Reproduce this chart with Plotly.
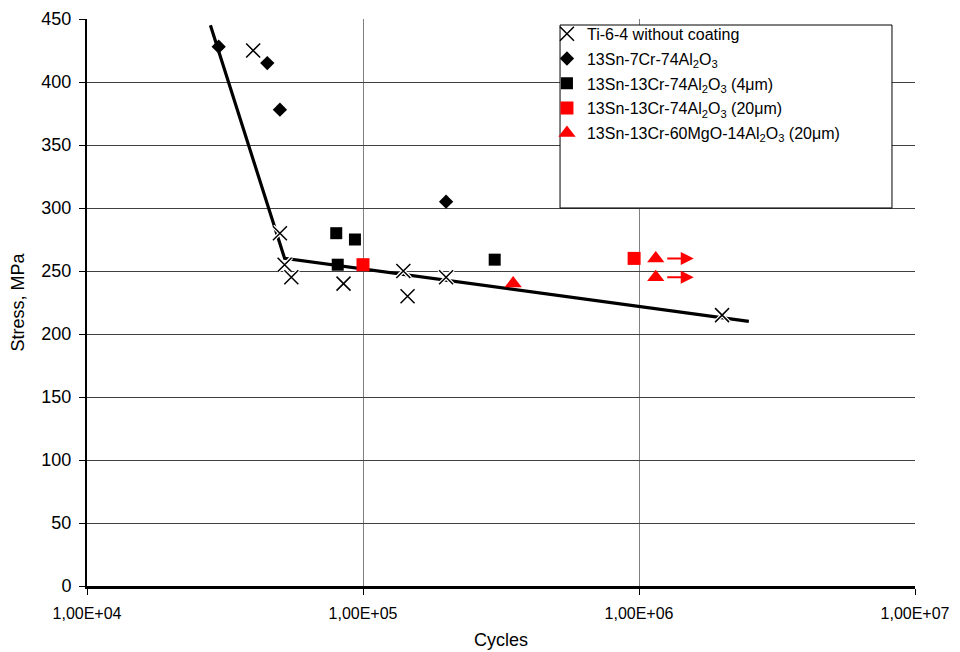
import plotly.graph_objects as go
import math

# ---- data ----
ti_x = [4.0e4, 5.0e4, 5.2e4, 5.5e4, 8.5e4, 1.4e5, 1.45e5, 2.0e5, 2.0e6]
ti_y = [425, 280, 255, 245, 240, 250, 230, 245, 215]

d1_x = [3.0e4, 4.5e4, 5.0e4, 2.0e5]
d1_y = [428, 415, 378, 305]

s4_x = [8.0e4, 9.35e4, 8.1e4, 3.0e5]
s4_y = [280, 275, 255, 259]

s20_x = [1.0e5, 9.6e5]
s20_y = [255, 260]

tri_x = [3.5e5, 1.15e6, 1.15e6]
tri_y = [240, 260, 245]
runout = [False, True, True]

fit_x = [2.8e4, 5.2e4, 2.5e6]
fit_y = [445, 260, 210]

x_ticks = [1e4, 1e5, 1e6, 1e7]
x_ticktext = ["1,00E+04", "1,00E+05", "1,00E+06", "1,00E+07"]

FONT = "Liberation Sans, Arial, sans-serif"

fig = go.Figure()

fig.add_trace(go.Scatter(x=fit_x, y=fit_y, mode="lines",
                         line=dict(color="black", width=3.2),
                         showlegend=False, hoverinfo="skip"))
# white halo behind X markers
fig.add_trace(go.Scatter(x=ti_x, y=ti_y, mode="markers",
                         marker=dict(symbol="x-thin", size=14,
                                     line=dict(color="white", width=4)),
                         showlegend=False, hoverinfo="skip"))
fig.add_trace(go.Scatter(x=ti_x, y=ti_y, mode="markers",
                         name="Ti-6-4 without coating", legendgroup="g1",
                         marker=dict(symbol="x-thin", size=14, color="black",
                                     line=dict(color="black", width=1.5))))
fig.add_trace(go.Scatter(x=d1_x, y=d1_y, mode="markers",
                         name="13Sn-7Cr-74Al<sub>2</sub>O<sub>3</sub>", legendgroup="g2",
                         marker=dict(symbol="diamond", size=11, color="black")))
fig.add_trace(go.Scatter(x=s4_x, y=s4_y, mode="markers",
                         name="13Sn-13Cr-74Al<sub>2</sub>O<sub>3</sub> (4μm)", legendgroup="g3",
                         marker=dict(symbol="square", size=12, color="black")))
fig.add_trace(go.Scatter(x=s20_x, y=s20_y, mode="markers",
                         name="13Sn-13Cr-74Al<sub>2</sub>O<sub>3</sub> (20μm)", legendgroup="g4",
                         marker=dict(symbol="square", size=13, color="#FF0000")))
fig.add_trace(go.Scatter(x=tri_x, y=tri_y, mode="markers",
                         name="13Sn-13Cr-60MgO-14Al<sub>2</sub>O<sub>3</sub> (20μm)", legendgroup="g5",
                         marker=dict(symbol="triangle-up", size=15, color="#FF0000")))

# run-out arrows
annotations = []
for x, y, r in zip(tri_x, tri_y, runout):
    if r:
        annotations.append(dict(
            x=math.log10(x * 1.373), y=y, ax=math.log10(x * 1.087), ay=y,
            xref="x", yref="y", axref="x", ayref="y",
            showarrow=True, arrowhead=2, arrowsize=1.3, arrowwidth=2,
            arrowcolor="#FF0000", text=""))

fig.update_layout(
    width=952, height=642,
    margin=dict(l=79, r=45, t=9, b=64),
    paper_bgcolor="white", plot_bgcolor="white",
    font=dict(family=FONT, size=16, color="black"),
    showlegend=True,
    legend=dict(x=0.5555, y=1.0039, xanchor="left", yanchor="top",
                bgcolor="rgba(0,0,0,0)", borderwidth=0,
                font=dict(family=FONT, size=16, color="black"),
                tracegroupgap=1),
    annotations=annotations,
    shapes=[dict(type="rect", xref="paper", yref="paper",
                 x0=0.5713, x1=0.9722, y0=0.6667, y1=0.9894,
                 line=dict(color="black", width=1), fillcolor="white",
                 layer="above")],
)

fig.update_xaxes(type="log", range=[4, 7], tickvals=x_ticks, ticktext=x_ticktext,
                 automargin=False,
                 showgrid=True, gridcolor="#808080", gridwidth=1,
                 showline=True, linecolor="black", linewidth=2.5,
                 ticks="outside", ticklen=6, tickcolor="black", tickwidth=1,
                 ticklabelstandoff=5,
                 tickfont=dict(family=FONT, size=16),
                 title=dict(text="Cycles", font=dict(family=FONT, size=18), standoff=16),
                 zeroline=False)
fig.update_yaxes(range=[0, 450], dtick=50,
                 automargin=False,
                 showgrid=True, gridcolor="#404040", gridwidth=1,
                 showline=True, linecolor="black", linewidth=2,
                 ticks="outside", ticklen=6, tickcolor="black", tickwidth=1,
                 ticklabelstandoff=4,
                 tickfont=dict(family=FONT, size=18),
                 title=dict(text="Stress, MPa", font=dict(family=FONT, size=18), standoff=14),
                 zeroline=False)

fig.write_html("out.html")
